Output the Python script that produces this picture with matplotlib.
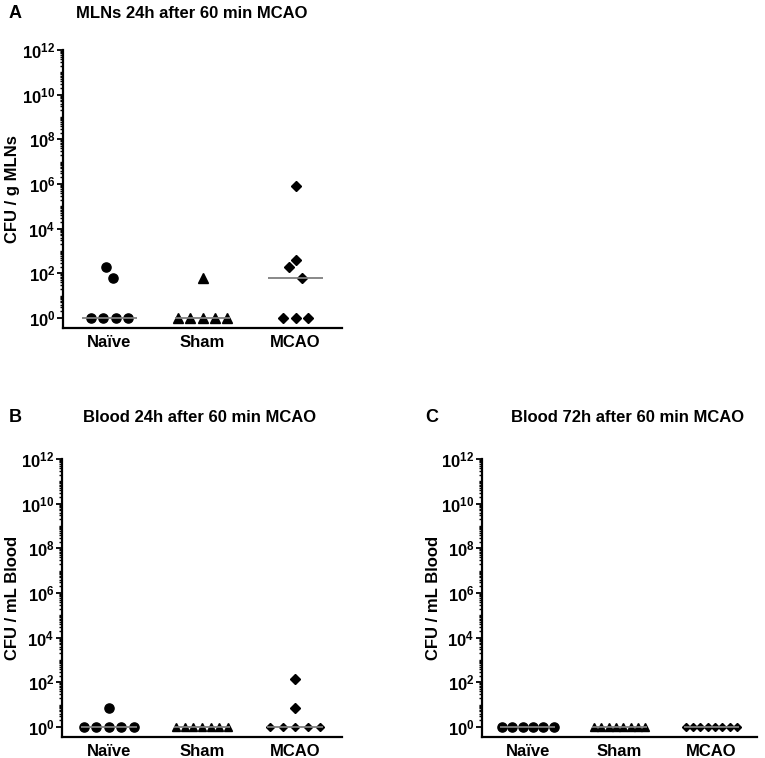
import numpy as np
import matplotlib
matplotlib.use("Agg")
import matplotlib.pyplot as plt
from matplotlib.ticker import FixedLocator, NullFormatter

plt.rcParams['font.family'] = ['Liberation Sans', 'DejaVu Sans']
plt.rcParams['font.weight'] = 'bold'
plt.rcParams['mathtext.fontset'] = 'custom'
plt.rcParams['mathtext.rm'] = 'Liberation Sans:bold'
plt.rcParams['mathtext.bf'] = 'Liberation Sans:bold'
plt.rcParams['mathtext.it'] = 'Liberation Sans:bold'

# ---------------- data ----------------
categories = ['Naïve', 'Sham', 'MCAO']

mln_naive = [1, 1, 1, 1, 190, 62]
mln_sham = [1, 1, 1, 1, 1, 60]
mln_mcao = [1, 1, 1, 190, 400, 62, 8e5]

blood24_naive = [1, 1, 1, 1, 1, 7]
blood24_sham = [1, 1, 1, 1, 1, 1, 1]
blood24_mcao = [1, 1, 1, 1, 1, 7, 140]

blood72_naive = [1, 1, 1, 1, 1, 1]
blood72_sham = [1, 1, 1, 1, 1, 1, 1, 1]
blood72_mcao = [1, 1, 1, 1, 1, 1, 1, 1]

panel_letters = ['A', 'B', 'C']
panel_titles = ['MLNs 24h after 60 min MCAO',
                'Blood 24h after 60 min MCAO',
                'Blood 72h after 60 min MCAO']
panel_ylabels = ['CFU / g MLNs', 'CFU / mL Blood', 'CFU / mL Blood']
major_exponents = [0, 2, 4, 6, 8, 10, 12]

# ---------------- layout helpers ----------------
W, H = 765, 758
fig = plt.figure(figsize=(W / 100, H / 100), dpi=100)


def ax_rect(left, right, top, bottom):
    return [left / W, 1 - bottom / H, (right - left) / W, (bottom - top) / H]


markers = ['o', '^', 'D']
msizes = [6.6, 6.6, 5.0]
crowded_sizes = [6.6, 5.4, 3.8]
crowded_k = [99, 7, 5]


def scatter_rows(vals, center, step=0.134, maxw=0.56, gap=0.6):
    vals = np.asarray(vals, dtype=float)
    lv = np.log10(vals)
    order = np.argsort(lv, kind='stable')
    rows, cur = [], [order[0]]
    for a, b in zip(order[:-1], order[1:]):
        if lv[b] - lv[a] < gap:
            cur.append(b)
        else:
            rows.append(cur)
            cur = [b]
    rows.append(cur)
    out = []
    for row in rows:
        row = sorted(row)
        k = len(row)
        s = step if k == 1 else min(step, maxw / (k - 1))
        if len(set(vals[row])) > 1:
            s *= 0.5
        xs = [center + (i - (k - 1) / 2) * s for i in range(k)]
        out.append((np.array(xs), vals[row], k))
    return out


def rect_center_y(rect):
    bottom = (1 - rect[1]) * H
    top = bottom - rect[3] * H
    return (top + bottom) / 2


def draw_panel(rect, groups, letter, title, ylabel, letter_xy, title_xy, ylab_x):
    ax = fig.add_axes(rect)
    ax.set_yscale('log')
    ax.set_ylim(10 ** -0.45, 1e12)
    ax.set_xlim(-0.5, 2.5)
    for i, vals in enumerate(groups):
        for xs, ys, k in scatter_rows(vals, i):
            ms = crowded_sizes[i] if k >= crowded_k[i] else msizes[i]
            ax.plot(xs, ys, linestyle='none', marker=markers[i], ms=ms,
                    color='black', zorder=3, clip_on=False)
        med = np.median(vals)
        ax.plot([i - 0.3, i + 0.3], [med, med], color='#7f7f7f', lw=1.3,
                zorder=4, solid_capstyle='butt')
    for side in ['top', 'right']:
        ax.spines[side].set_visible(False)
    for side in ['left', 'bottom']:
        ax.spines[side].set_linewidth(1.6)
    ax.set_xticks(range(len(categories)))
    ax.set_xticklabels(categories, fontsize=12, fontweight='bold')
    ax.tick_params(axis='x', length=0, pad=5)
    ax.yaxis.set_major_locator(FixedLocator([10.0 ** e for e in major_exponents]))
    ax.set_yticklabels([r'$\mathbf{10^{%d}}$' % e for e in major_exponents], fontsize=12)
    minor = [s * 10.0 ** d for d in range(0, 12) for s in range(2, 10)]
    minor += [10.0 ** d for d in range(1, 12, 2)]
    ax.yaxis.set_minor_locator(FixedLocator(minor))
    ax.yaxis.set_minor_formatter(NullFormatter())
    ax.tick_params(axis='y', which='major', length=4, width=1.3, pad=1.5)
    ax.tick_params(axis='y', which='minor', length=2.3, width=1.0)
    fig.text(letter_xy[0] / W, 1 - letter_xy[1] / H, letter, fontsize=13,
             fontweight='bold', ha='left', va='center')
    fig.text(title_xy[0] / W, 1 - title_xy[1] / H, title, fontsize=12,
             fontweight='bold', ha='center', va='center')
    fig.text(ylab_x / W, 1 - (rect_center_y(rect)) / H, ylabel, fontsize=12,
             fontweight='bold', rotation=90, ha='center', va='center')
    return ax


draw_panel(ax_rect(63, 342, 50, 328), [mln_naive, mln_sham, mln_mcao],
           panel_letters[0], panel_titles[0], panel_ylabels[0],
           (9, 13), (192, 13), 13)
draw_panel(ax_rect(62, 342, 459, 737), [blood24_naive, blood24_sham, blood24_mcao],
           panel_letters[1], panel_titles[1], panel_ylabels[1],
           (9, 418), (200, 418), 13)
draw_panel(ax_rect(482, 757, 459, 737), [blood72_naive, blood72_sham, blood72_mcao],
           panel_letters[2], panel_titles[2], panel_ylabels[2],
           (425, 418), (628, 418), 433)

fig.savefig('out.png', dpi=100, facecolor='white')
